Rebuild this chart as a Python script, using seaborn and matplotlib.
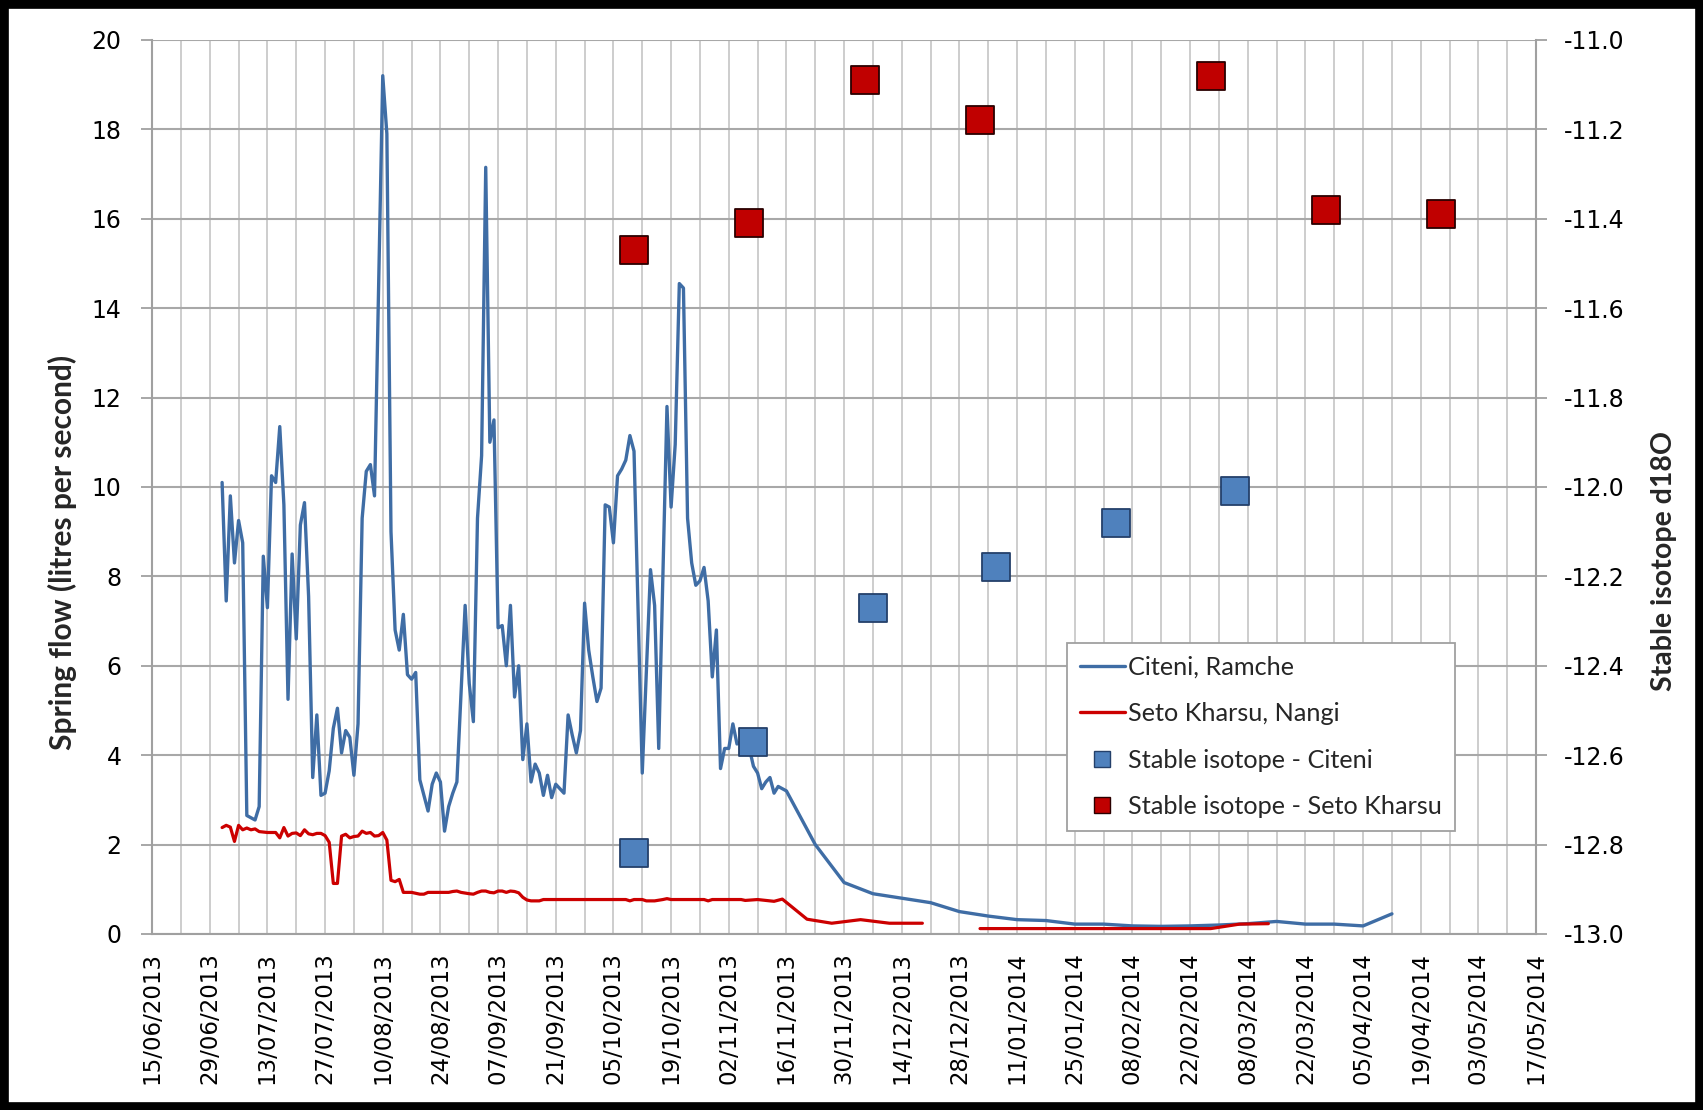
import numpy as np
import pandas as pd
import matplotlib
matplotlib.use("Agg")
import matplotlib.pyplot as plt
from matplotlib.lines import Line2D
from matplotlib.patches import Rectangle
from matplotlib.ticker import FuncFormatter, MultipleLocator, NullFormatter
import matplotlib.dates as mdates
import seaborn as sns

# ---------------------------------------------------------------- data
START = pd.Timestamp("2013-06-15")   # day 0 of the record

# Citeni, Ramche spring flow (litres per second), by day since START
citeni_day = [17, 18, 19, 20, 21, 22, 23, 25, 26, 27, 28, 29, 30, 31, 32, 33, 34,
              35, 36, 37, 38, 39, 40, 41, 42, 43, 44, 45, 46, 47, 48, 49, 50, 51,
              52, 53, 54, 56, 57, 58, 59, 60, 61, 62, 63, 64, 65, 67, 68, 69, 70,
              71, 72, 73, 74, 76, 77, 78, 79, 80, 81, 82, 83, 84, 85, 86, 87, 88,
              89, 90, 91, 92, 93, 94, 95, 96, 97, 98, 99, 100, 101, 102, 103, 104,
              105, 106, 107, 108, 109, 110, 111, 112, 113, 114, 115, 116, 117, 119,
              121, 122, 123, 125, 126, 127, 128, 129, 130, 131, 132, 133, 134, 135,
              136, 137, 138, 139, 140, 141, 142, 143, 145, 146, 147, 148, 149, 150,
              151, 152, 154, 161, 168, 175, 182, 189, 196, 203, 210, 217, 224, 231,
              238, 245, 252, 259, 266, 273, 280, 287, 294, 301]
citeni_flow = [10.1, 7.45, 9.8, 8.3, 9.25, 8.75, 2.65, 2.55, 2.85, 8.45, 7.3, 10.25,
               10.1, 11.35, 9.6, 5.25, 8.5, 6.6, 9.15, 9.65, 7.55, 3.5, 4.9, 3.1,
               3.15, 3.65, 4.6, 5.05, 4.05, 4.55, 4.4, 3.55, 4.7, 9.3, 10.35, 10.5,
               9.8, 19.2, 17.9, 9.0, 6.8, 6.35, 7.15, 5.8, 5.7, 5.85, 3.45, 2.75,
               3.35, 3.6, 3.4, 2.3, 2.85, 3.15, 3.4, 7.35, 5.6, 4.75, 9.3, 10.7,
               17.15, 11.0, 11.5, 6.85, 6.9, 6.0, 7.35, 5.3, 6.0, 3.9, 4.7, 3.4,
               3.8, 3.6, 3.1, 3.55, 3.05, 3.35, 3.25, 3.15, 4.9, 4.45, 4.05, 4.55,
               7.4, 6.35, 5.75, 5.2, 5.5, 9.6, 9.55, 8.75, 10.25, 10.4, 10.6, 11.15,
               10.8, 3.6, 8.15, 7.35, 4.15, 11.8, 9.55, 10.95, 14.55, 14.45, 9.3,
               8.3, 7.8, 7.9, 8.2, 7.45, 5.75, 6.8, 3.7, 4.15, 4.15, 4.7, 4.25, 4.3,
               4.15, 3.75, 3.6, 3.25, 3.4, 3.5, 3.15, 3.3, 3.2, 2.0, 1.15, 0.9, 0.8,
               0.7, 0.5, 0.4, 0.32, 0.3, 0.22, 0.22, 0.18, 0.17, 0.18, 0.2, 0.23,
               0.28, 0.22, 0.22, 0.18, 0.45]

# Seto Kharsu, Nangi spring flow, two recorded stretches
seto_day_a = [17, 18, 19, 20, 21, 22, 23, 24, 25, 26, 27, 28, 29, 30, 31, 32, 33,
              34, 35, 36, 37, 38, 39, 40, 41, 42, 43, 44, 45, 46, 47, 48, 49, 50,
              51, 52, 53, 54, 55, 56, 57, 58, 59, 60, 61, 63, 64, 65, 66, 67, 72,
              73, 74, 75, 77, 78, 79, 80, 81, 82, 83, 84, 85, 86, 87, 88, 89, 90,
              91, 92, 94, 95, 115, 116, 117, 119, 120, 122, 124, 125, 126, 134,
              135, 136, 143, 144, 147, 151, 153, 159, 165, 172, 179, 187]
seto_flow_a = [2.38, 2.43, 2.39, 2.07, 2.43, 2.33, 2.37, 2.33, 2.35, 2.29, 2.28,
               2.27, 2.27, 2.27, 2.15, 2.38, 2.19, 2.25, 2.26, 2.2, 2.33, 2.24,
               2.22, 2.25, 2.25, 2.2, 2.05, 1.13, 1.13, 2.19, 2.23, 2.15, 2.18,
               2.19, 2.3, 2.25, 2.27, 2.19, 2.2, 2.27, 2.1, 1.2, 1.17, 1.22, 0.93,
               0.93, 0.91, 0.89, 0.89, 0.93, 0.93, 0.95, 0.96, 0.93, 0.9, 0.89,
               0.93, 0.96, 0.96, 0.93, 0.92, 0.96, 0.96, 0.93, 0.96, 0.95, 0.92,
               0.82, 0.76, 0.74, 0.74, 0.77, 0.77, 0.74, 0.77, 0.77, 0.74, 0.74,
               0.77, 0.79, 0.77, 0.77, 0.74, 0.77, 0.77, 0.75, 0.77, 0.73, 0.78,
               0.33, 0.24, 0.32, 0.24, 0.24]
seto_day_b = [201, 257, 264, 271]
seto_flow_b = [0.12, 0.12, 0.22, 0.23]

# Stable isotope samples (d18O, per mil)
iso_citeni_date = ["2013-10-10", "2013-11-08", "2013-12-07", "2014-01-06",
                   "2014-02-04", "2014-03-05"]
iso_citeni = [-12.82, -12.57, -12.27, -12.18, -12.08, -12.01]
iso_seto_date = ["2013-10-10", "2013-11-07", "2013-12-05", "2014-01-02",
                 "2014-02-27", "2014-03-27", "2014-04-24"]
iso_seto = [-11.47, -11.41, -11.09, -11.18, -11.08, -11.38, -11.39]

x_ticks = pd.date_range("2013-06-15", "2014-05-17", freq="14D")
x_grid = pd.date_range("2013-06-15", "2014-05-17", freq="7D")

labels = ["Citeni, Ramche", "Seto Kharsu, Nangi",
          "Stable isotope - Citeni", "Stable isotope - Seto Kharsu"]

# ---------------------------------------------------------------- style
BLUE_LINE = "#3f6da5"
RED_LINE = "#cc0000"
BLUE_FILL = "#4f81bd"
BLUE_EDGE = "#24406a"
RED_FILL = "#c00000"
RED_EDGE = "#2a0000"
AXIS_GREY = "#a0a0a0"

sns.set_style("white")
plt.rcParams["font.family"] = ["DejaVu Sans"]
plt.rcParams["axes.unicode_minus"] = False


def to_dates(days):
    return START + pd.to_timedelta(np.asarray(days, dtype=float), unit="D")


citeni = pd.DataFrame({"date": to_dates(citeni_day), "flow": citeni_flow})
seto = pd.concat([
    pd.DataFrame({"date": to_dates(seto_day_a), "flow": seto_flow_a, "seg": 0}),
    pd.DataFrame({"date": to_dates(seto_day_b), "flow": seto_flow_b, "seg": 1}),
], ignore_index=True)
iso_c = pd.DataFrame({"date": pd.to_datetime(iso_citeni_date), "d18O": iso_citeni})
iso_s = pd.DataFrame({"date": pd.to_datetime(iso_seto_date), "d18O": iso_seto})

fig = plt.figure(figsize=(17.03, 11.10), dpi=100)
ax = fig.add_axes([0.0893, 0.1586, 0.8127, 0.8054])
ax2 = ax.twinx()

sns.lineplot(data=citeni, x="date", y="flow", color=BLUE_LINE, lw=2.4,
             ax=ax, legend=False, zorder=3)
sns.lineplot(data=seto, x="date", y="flow", units="seg", estimator=None,
             color=RED_LINE, lw=2.3, ax=ax, legend=False, zorder=3)

sns.scatterplot(data=iso_c, x="date", y="d18O", marker="s", s=400,
                color=BLUE_FILL, edgecolor=BLUE_EDGE, linewidth=1.3,
                ax=ax2, legend=False, zorder=4)
sns.scatterplot(data=iso_s, x="date", y="d18O", marker="s", s=400,
                color=RED_FILL, edgecolor=RED_EDGE, linewidth=1.3,
                ax=ax2, legend=False, zorder=4)

# axes ranges
ax.set_xlim(x_ticks[0], x_ticks[-1])
ax.set_ylim(0, 20)
ax2.set_ylim(-13.0, -11.0)

# x axis: dates every two weeks, weekly grid
ax.set_xticks(x_ticks)
ax.set_xticks(x_grid, minor=True)
ax.xaxis.set_major_formatter(mdates.DateFormatter("%d/%m/%Y"))
ax.xaxis.set_minor_formatter(NullFormatter())
ax.yaxis.set_major_locator(MultipleLocator(2))
ax2.yaxis.set_major_locator(MultipleLocator(0.2))
ax2.yaxis.set_major_formatter(FuncFormatter(lambda v, p: f"{v:.1f}"))

ax.set_axisbelow(True)
ax.xaxis.grid(True, which="both", color="#c9c9c9", lw=1.3)
ax.yaxis.grid(True, which="major", color="#a8a8a8", lw=1.5)
ax2.grid(False)

ax.tick_params(axis="x", which="major", length=8, width=1.3, color=AXIS_GREY,
               labelrotation=90, labelsize=16.5, pad=5, labelcolor="black")
ax.tick_params(axis="x", which="minor", length=0)
ax.tick_params(axis="y", length=8, width=1.3, color=AXIS_GREY, labelsize=17,
               pad=14, labelcolor="black")
ax2.tick_params(axis="y", length=8, width=1.3, color=AXIS_GREY, labelsize=17,
                pad=12, labelcolor="black")

for name in ("top", "right"):
    ax.spines[name].set_visible(False)
for name in ("left", "bottom"):
    ax.spines[name].set_color(AXIS_GREY)
    ax.spines[name].set_linewidth(1.5)
for name in ("top", "left", "bottom"):
    ax2.spines[name].set_visible(False)
ax2.spines["right"].set_color(AXIS_GREY)
ax2.spines["right"].set_linewidth(1.5)

ax.set_xlabel("")
ax.set_ylabel("")
ax2.set_xlabel("")
ax2.set_ylabel("")

fig.text(0.0364, 0.502, "Spring flow (litres per second)", rotation=90,
         ha="center", va="center", fontsize=21.5, fontweight="bold",
         family=["Lato", "DejaVu Sans"])
fig.text(0.977, 0.4946, "Stable isotope d18O", rotation=90,
         ha="center", va="center", fontsize=20.5, fontweight="bold",
         family=["Lato", "DejaVu Sans"])

# legend
handles = [
    Line2D([], [], color=BLUE_LINE, lw=2.4),
    Line2D([], [], color=RED_LINE, lw=2.4),
    Line2D([], [], ls="none", marker="s", markersize=12, markerfacecolor=BLUE_FILL,
           markeredgecolor=BLUE_EDGE, markeredgewidth=1.0),
    Line2D([], [], ls="none", marker="s", markersize=12, markerfacecolor=RED_FILL,
           markeredgecolor=RED_EDGE, markeredgewidth=1.0),
]
leg = ax2.legend(handles, labels, loc="upper left", bbox_to_anchor=(0.661, 0.3255),
                 borderaxespad=0, frameon=True, fancybox=False, framealpha=1,
                 edgecolor=AXIS_GREY, handlelength=1.8, handletextpad=0.12,
                 labelspacing=0.93, borderpad=0.5,
                 prop={"family": ["Lato", "DejaVu Sans"], "size": 18.2})
leg.get_frame().set_linewidth(1.3)

# black outer frame
fig.patches.append(Rectangle((0, 0), 1, 1, transform=fig.transFigure, fill=False,
                             edgecolor="black", lw=12, zorder=10))

fig.savefig("out.png", dpi=100, facecolor="white")
